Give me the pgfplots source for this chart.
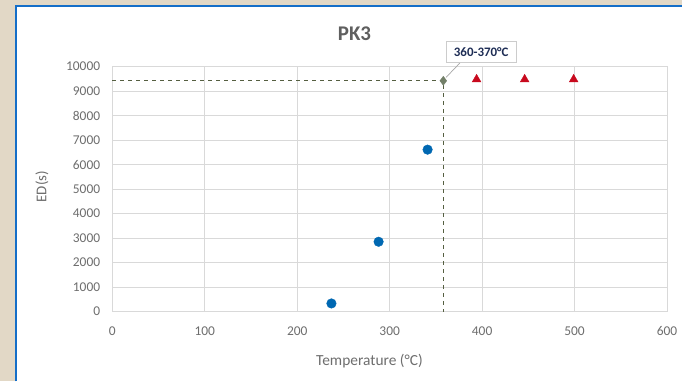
\documentclass[border=0pt]{standalone}
\usepackage{pgfplots}
\pgfplotsset{compat=1.18}
\usepackage{fontspec}
\setmainfont{Carlito}
\definecolor{bgc}{RGB}{226,216,198}
\definecolor{frameblue}{RGB}{20,110,200}
\definecolor{gridc}{RGB}{217,217,217}
\definecolor{txtc}{RGB}{110,110,110}
\definecolor{dotblue}{RGB}{0,104,178}
\definecolor{trired}{RGB}{200,10,30}
\definecolor{dashc}{RGB}{85,95,65}
\definecolor{diac}{RGB}{115,128,105}
\definecolor{navy}{RGB}{30,45,85}
\begin{document}
\begin{tikzpicture}[x=1bp,y=1bp]
\fill[bgc] (0,0) rectangle (683,382);
\fill[white] (17,0) rectangle (683,375);
\draw[frameblue, line width=2bp] (16,0) -- (16,376) -- (683,376);
\path[use as bounding box] (0,0) rectangle (683,382);
\begin{axis}[
  at={(112.5bp,70bp)}, anchor=south west,
  scale only axis, width=555.5bp, height=245.3bp,
  xmin=0, xmax=600, ymin=0, ymax=10000,
  xtick={0,100,...,600}, ytick={0,1000,...,10000},
  scaled y ticks=false, scaled x ticks=false,
  grid=major, grid style={gridc, line width=0.8bp},
  axis line style={gridc, line width=0.8bp},
  major tick length=0pt,
  /pgf/number format/1000 sep={},
  /pgf/number format/assume math mode=true,
  tick label style={font=\fontsize{13.5}{14}\selectfont, text=txtc},
  yticklabel style={anchor=east, inner sep=0pt, xshift=-12bp},
  xticklabel style={anchor=north, inner sep=0pt, yshift=-15bp},
  clip=false,
]
\addplot[dashc, line width=1bp, dash pattern=on 4bp off 4bp] coordinates {(0,9420) (358,9420) (358,0)};
\addplot[only marks, mark=*, mark size=4.8bp, dotblue] coordinates {(237,330) (288,2850) (341,6610)};
\addplot[only marks, mark=triangle*, mark size=5bp, trired] coordinates {(394,9480) (446,9480) (499,9480)};
\addplot[only marks, mark=diamond*, mark size=4.5bp, diac] coordinates {(358,9420)};
\draw[gray!70, line width=0.7bp] (axis cs:361,9560) -- (axis cs:376,10150);
\node[draw=gray!40, fill=white, line width=0.8bp, minimum width=70bp, minimum height=21bp, inner sep=2bp, text=navy, font=\fontsize{13}{14}\selectfont\bfseries] at (axis cs:399,10590) {360-370°C};
\end{axis}
\node[text=txtc, font=\fontsize{15.5}{16}\selectfont] at (370,20) {Temperature (°C)};
\node[text=txtc, font=\fontsize{15}{16}\selectfont, rotate=90] at (42,195) {ED(s)};
\node[text={rgb,255:red,95;green,95;blue,95}, font=\fontsize{21}{22}\selectfont\bfseries] at (355,348) {PK3};
\end{tikzpicture}
\end{document}
